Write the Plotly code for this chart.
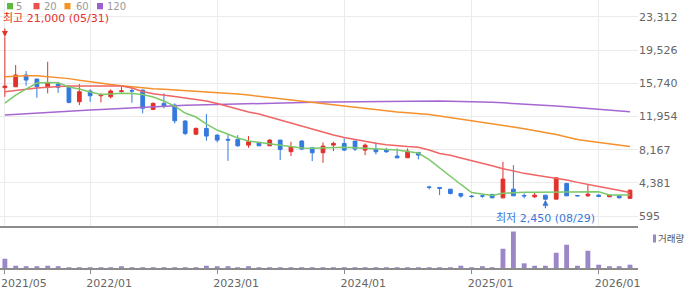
import plotly.graph_objects as go

months = ["2021-05", "2021-06", "2021-07", "2021-08", "2021-09", "2021-10", "2021-11", "2021-12",
          "2022-01", "2022-02", "2022-03", "2022-04", "2022-05", "2022-06", "2022-07", "2022-08",
          "2022-09", "2022-10", "2022-11", "2022-12",
          "2023-01", "2023-02", "2023-03", "2023-04", "2023-05", "2023-06", "2023-07", "2023-08",
          "2023-09", "2023-10", "2023-11", "2023-12",
          "2024-01", "2024-02", "2024-03", "2024-04", "2024-05", "2024-06", "2024-07", "2024-08",
          "2024-09", "2024-10", "2024-11", "2024-12",
          "2025-01", "2025-02", "2025-03", "2025-04", "2025-05", "2025-06", "2025-07", "2025-08",
          "2025-09", "2025-10", "2025-11", "2025-12",
          "2026-01", "2026-02", "2026-03", "2026-04"]

open_ = [15230, 15340, 16675, 16220, 15340, 15650, 15340, 13630, 14850, 14315, 14200, 14800,
         14900, 14965, 12760, 13445, 13250, 11430, 9940, 10590, 9830, 9350, 9340, 8690,
         9000, 8610, 9260, 7940, 9150, 8380, 7815, 8690, 8885, 9150, 8120, 8235,
         8120, 7440, 7250, 7860, 3930, 3870, 3670, 3180, 2880, 2900, 3070, 2680,
         3670, 2950, 2800, 2990, 2530, 4325, 2950, 2910, 2990, 2800, 2910, 2620]
high = [21000, 17815, 17130, 16220, 18190, 15910, 15450, 15650, 15045, 14590, 15045, 15340,
        15160, 15000, 13560, 14590, 13445, 11540, 10710, 12230, 9910, 9830, 9830, 9720,
        9050, 9375, 9260, 9070, 9260, 8380, 9000, 9070, 9460, 9150, 8885, 9000,
        8380, 8310, 8310, 7860, 4050, 3870, 3670, 3180, 2990, 3070, 3070, 6790,
        6410, 3180, 3250, 2990, 4990, 4325, 3000, 4210, 3100, 2990, 2910, 3600]
low = [14200, 15340, 15450, 14085, 14590, 14650, 13450, 13250, 13630, 13560, 14010, 14650,
       13520, 12310, 12680, 12880, 11165, 9830, 9830, 9180, 9000, 6900, 8500, 8380,
       8610, 8610, 6980, 7440, 8120, 6870, 6670, 8010, 8010, 8010, 7550, 7630,
       7815, 7180, 7250, 7060, 3640, 2990, 3070, 2680, 2680, 2680, 2680, 2620,
       2910, 2620, 2680, 2450, 2530, 2910, 2850, 2800, 2760, 2800, 2620, 2620]
close = [15420, 16675, 16100, 15340, 15795, 15280, 13560, 14770, 14315, 14400, 14850, 14870,
         14850, 12880, 13445, 13140, 11460, 10025, 10590, 9720, 9260, 9260, 8610, 9070,
         8610, 9260, 8200, 8500, 8235, 7815, 8580, 8885, 8120, 8235, 8690, 7930,
         7930, 7250, 8010, 7550, 3870, 3760, 3180, 2880, 2840, 2880, 2680, 4815,
         2910, 2900, 2990, 2530, 4960, 2910, 2910, 3100, 2850, 2990, 2680, 3560]

ma5 = [13485, 14397, 15081, 15765, 15822, 15799, 15309, 15081, 14739, 14454, 14511, 14591,
       14568, 14454, 14169, 13713, 13143, 12345, 11889, 11091, 10407, 9951, 9495, 9153,
       8982, 8868, 8697, 8526, 8355, 8321, 8355, 8412, 8435, 8378, 8321, 8275,
       8207, 8127, 7956, 7785, 7044, 6075, 5163, 4205, 3282, 3111, 2940, 3191,
       3282, 3305, 3305, 3305, 3316, 3339, 3339, 3362, 3373, 2997, 2997, 2997]
ma20 = [14773, 14933, 15058, 15195, 15275, 15366, 15423, 15434, 15446, 15457, 15423, 15423,
        15195, 14796, 14534, 14340, 14226, 14055, 13884, 13713, 13428, 13109, 12744, 12459,
        12231, 11889, 11547, 11171, 10829, 10464, 10122, 9837, 9552, 9324, 9096, 8902,
        8743, 8606, 8526, 8446, 8127, 7728, 7523, 7215, 6930, 6645, 6326, 6007,
        5710, 5471, 5277, 5106, 4935, 4707, 4445, 4251, 3977, 3738, 3510, 3282]
ma60 = [16483, 16563, 16586, 16586, 16506, 16392, 16267, 16073, 15879, 15731, 15594, 15469,
        15343, 15252, 15127, 15047, 14978, 14910, 14830, 14750, 14682, 14602, 14511, 14397,
        14260, 14123, 13964, 13827, 13690, 13531, 13371, 13234, 13097, 12961, 12801, 12664,
        12550, 12459, 12368, 12311, 12174, 12003, 11832, 11627, 11433, 11262, 11091, 10920,
        10749, 10544, 10350, 10122, 9894, 9609, 9324, 9153, 8982, 8868, 8697, 8526]
ma120 = [12117, 12197, 12277, 12345, 12425, 12505, 12573, 12630, 12687, 12744, 12801, 12881,
         12972, 13029, 13109, 13143, 13200, 13234, 13257, 13291, 13314, 13337, 13360, 13371,
         13405, 13451, 13485, 13508, 13542, 13565, 13599, 13610, 13622, 13633, 13656, 13679,
         13702, 13724, 13736, 13747, 13736, 13713, 13690, 13679, 13645, 13610, 13565, 13508,
         13451, 13394, 13314, 13234, 13143, 13052, 12961, 12869, 12778, 12687, 12596, 12505]

volume = [930000, 230000, 130000, 130000, 230000, 130000, 15000, 15000, 15000, 15000, 15000, 130000,
          15000, 15000, 15000, 15000, 15000, 15000, 15000, 230000, 130000, 130000, 15000, 130000,
          15000, 15000, 15000, 15000, 15000, 15000, 15000, 15000, 15000, 15000, 15000, 15000,
          15000, 15000, 15000, 15000, 15000, 15000, 15000, 230000, 15000, 130000, 15000, 1930000,
          3660000, 470000, 230000, 230000, 1530000, 2330000, 230000, 1730000, 330000, 130000, 130000, 330000]

x_tick_dates = ["2021-05-01", "2022-01-01", "2023-01-01", "2024-01-01", "2025-01-01", "2026-01-01"]
x_tick_labels = ["2021/05", "2022/01", "2023/01", "2024/01", "2025/01", "2026/01"]
price_ticks = [595, 4381, 8167, 11954, 15740, 19526, 23312]
ma_names = ["5", "20", "60", "120"]

RED = "#E2302A"
BLUE = "#3479DE"
MA_COLORS = ["#7cc96a", "#f06464", "#f5912c", "#a567d2"]
LEG_COLORS = ["#5cba3c", "#ef4f4b", "#f7931e", "#9b5fcf"]
VOL_COLOR = "#9b87c8"
FONT = "DejaVu Sans, Noto Sans CJK KR, sans-serif"

x = [m + "-01" for m in months]

fig = go.Figure()
fig.add_trace(go.Candlestick(
    x=x, open=open_, high=high, low=low, close=close,
    increasing=dict(line=dict(color=RED, width=1), fillcolor=RED),
    decreasing=dict(line=dict(color=BLUE, width=1), fillcolor=BLUE),
    whiskerwidth=0, xaxis="x", yaxis="y", showlegend=False, hoverinfo="skip"))
for vals, col in zip([ma120, ma60, ma20, ma5], MA_COLORS[::-1]):
    fig.add_trace(go.Scatter(x=x, y=vals, mode="lines", line=dict(color=col, width=1.5),
                             xaxis="x", yaxis="y", showlegend=False, hoverinfo="skip"))
fig.add_trace(go.Bar(x=x, y=volume, marker=dict(color=VOL_COLOR, line=dict(width=0)),
                     width=14 * 86400000, xaxis="x2", yaxis="y2", showlegend=False, hoverinfo="skip"))

PW, PH = 638.0, 268.0


def px(xp):
    return xp / PW


def py(yp):
    return (PH - yp) / PH


shapes = []
annotations = []
leg_sq = [7, 33.5, 64.5, 97]
leg_tx = [14.5, 42.5, 74.5, 106]
for i in range(4):
    shapes.append(dict(type="rect", xref="paper", yref="paper", x0=px(leg_sq[i]), x1=px(leg_sq[i] + 6),
                       y0=py(9.3), y1=py(3), fillcolor=LEG_COLORS[i], line=dict(width=0)))
    annotations.append(dict(xref="paper", yref="paper", x=px(leg_tx[i]), y=py(6.3), text=ma_names[i],
                            showarrow=False, xanchor="left", yanchor="middle",
                            font=dict(family=FONT, size=10, color="#999999"), borderpad=0))

# volume legend
shapes.append(dict(type="rect", xref="paper", yref="paper", x0=px(653), x1=px(656),
                   y0=py(242.5), y1=py(234.5), fillcolor=VOL_COLOR, line=dict(width=0)))
annotations.append(dict(xref="paper", yref="paper", x=px(657), y=py(238.5), text="거래량",
                        showarrow=False, xanchor="left", yanchor="middle",
                        font=dict(family=FONT, size=9.5, color="#555555"), borderpad=0))

# high / low markers
i_hi = high.index(max(high))
i_lo = low.index(min(low))
annotations.append(dict(x=x[i_hi], y=high[i_hi], xref="x", yref="y", text="", showarrow=True,
                        ax=0, ay=-10, arrowhead=2, arrowsize=1, arrowwidth=1.2, arrowcolor="#e8302a",
                        standoff=0))
annotations.append(dict(x=x[i_hi], y=high[i_hi], xref="x", yref="y",
                        text="최고 21,000 (05/31)", showarrow=False, xanchor="left", yanchor="middle",
                        xshift=-3, yshift=19, borderpad=0,
                        font=dict(family=FONT, size=11, color="#e8302a")))
annotations.append(dict(x=x[i_lo], y=low[i_lo], xref="x", yref="y", text="", showarrow=True,
                        ax=0, ay=10, arrowhead=2, arrowsize=1, arrowwidth=1.2, arrowcolor="#3a78d8",
                        standoff=0))
annotations.append(dict(x=x[i_lo], y=low[i_lo], xref="x", yref="y",
                        text="최저 2,450 (08/29)", showarrow=False, xanchor="center", yanchor="middle",
                        yshift=-19, borderpad=0,
                        font=dict(family=FONT, size=11, color="#3a78d8")))

fig.update_layout(
    width=700, height=289,
    margin=dict(l=0, r=62, t=0, b=21),
    paper_bgcolor="white", plot_bgcolor="white",
    showlegend=False, boxgap=0.45,
    shapes=shapes, annotations=annotations,
    xaxis=dict(domain=[0, 1], anchor="y", type="date", range=["2021-04-17", "2026-04-24"],
               tickvals=x_tick_dates, showticklabels=False, showgrid=True, gridcolor="#ebebeb",
               gridwidth=1, showline=True, linecolor="#8c8c8c", linewidth=2, ticks="",
               zeroline=False, rangeslider=dict(visible=False)),
    xaxis2=dict(domain=[0, 1], anchor="y2", type="date", matches="x",
                tickvals=x_tick_dates, ticktext=x_tick_labels, showgrid=False,
                showline=True, linecolor="#8c8c8c", linewidth=2, ticks="outside", ticklen=4,
                tickcolor="#8c8c8c", tickfont=dict(family=FONT, size=11, color="#666666"),
                ticklabelshift=19, ticklabeloverflow="allow", zeroline=False),
    yaxis=dict(domain=[0.158, 1], anchor="x", side="right", range=[-489, 25227],
               tickvals=price_ticks, ticktext=[f"{v:,}" for v in price_ticks],
               showgrid=True, gridcolor="#ebebeb", zeroline=False, ticks="",
               tickfont=dict(family=FONT, size=11, color="#666666")),
    yaxis2=dict(domain=[0, 0.156], anchor="x2", range=[0, 4200000], showticklabels=False,
                showgrid=False, zeroline=False),
)

fig.write_html("out.html")
